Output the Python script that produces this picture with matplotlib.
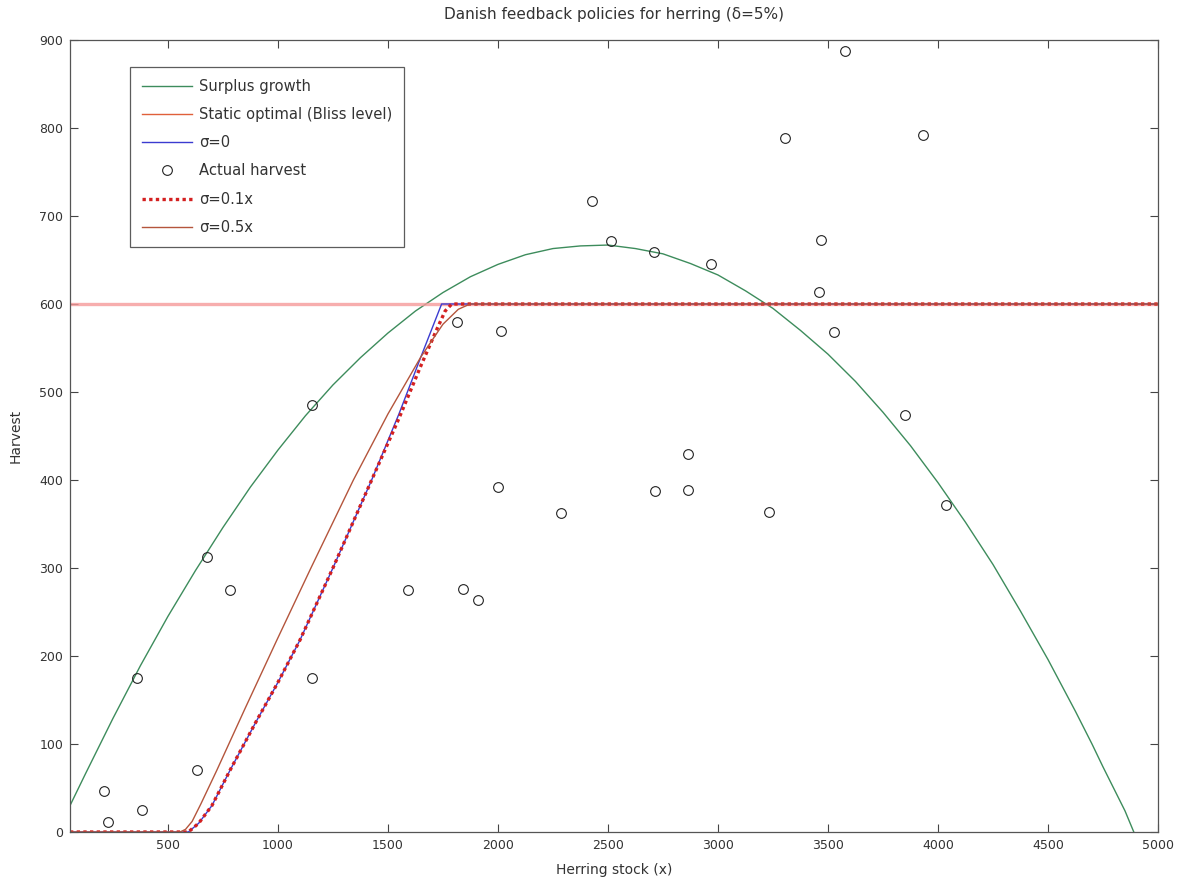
import matplotlib.pyplot as plt

# surplus growth curve
growth_x = [55, 125, 250, 375, 500, 625, 750, 875, 1000, 1125, 1250, 1375, 1500,
            1625, 1750, 1875, 2000, 2125, 2250, 2375, 2500, 2625, 2750, 2875,
            3000, 3125, 3250, 3375, 3500, 3625, 3750, 3875, 4000, 4125, 4250,
            4375, 4500, 4625, 4700, 4750, 4800, 4850, 4890]
growth_y = [30, 66, 129, 189, 245, 297, 346, 392, 434, 473, 508, 539, 567,
            592, 613, 631, 645, 656, 663, 666, 667, 663, 657, 646,
            633, 615, 595, 570, 543, 512, 477, 439, 397, 352, 304,
            251, 196, 137, 100, 74, 49, 24, 0]

# static optimal (bliss level)
bliss_x = [55, 5000]
bliss_y = [600, 600]

# feedback policies
sig0_x = [55, 593, 640, 700, 782, 900, 1000, 1100, 1250, 1426, 1550, 1650, 1744, 5000]
sig0_y = [0, 0, 10, 30, 70, 125, 170, 218, 300, 400, 475, 540, 600, 600]

sig01_x = [55, 593, 640, 700, 782, 900, 1000, 1100, 1250, 1426, 1550, 1650, 1720, 1760, 1790, 5000]
sig01_y = [0, 0, 10, 30, 70, 125, 170, 218, 300, 400, 470, 530, 570, 592, 600, 600]

sig05_x = [55, 555, 580, 610, 650, 722, 850, 995, 1150, 1343, 1500, 1650, 1750, 1820, 1873, 5000]
sig05_y = [0, 0, 3, 12, 32, 70, 140, 218, 300, 400, 475, 540, 577, 594, 600, 600]

# actual harvest observations
stock = [211, 229, 360, 384, 632, 678, 782, 1156, 1156, 1593, 1815, 1841, 1908,
         1999, 2015, 2288, 2429, 2512, 2710, 2714, 2865, 2865, 2970, 3232,
         3305, 3461, 3467, 3528, 3576, 3850, 3932, 4037]
harvest = [47, 11, 175, 25, 71, 313, 275, 175, 485, 275, 580, 276, 264,
           392, 569, 363, 717, 672, 659, 387, 429, 389, 645, 364,
           789, 614, 673, 568, 888, 474, 792, 372]

plt.rcParams['font.family'] = ['DejaVu Sans']

fig = plt.figure(figsize=(11.82, 8.81), dpi=100)
ax = fig.add_axes([70 / 1182, 49 / 881, 1088 / 1182, 792 / 881])

ax.plot(growth_x, growth_y, color="#3d8c5c", lw=1.0, label="Surplus growth")
ax.plot(bliss_x, bliss_y, color="#f59a9a", lw=2.4, alpha=0.8,
        label="Static optimal (Bliss level)")
ax.plot(sig0_x, sig0_y, color="#3b3bd0", lw=1.0, label="σ=0")
ax.plot(stock, harvest, linestyle="none", marker="o", markersize=7,
        markerfacecolor="none", markeredgecolor="#222222", markeredgewidth=0.8,
        label="Actual harvest")
ax.plot(sig01_x, sig01_y, color="#d42020", lw=2.4, linestyle=(0, (1, 1)),
        label="σ=0.1x")
ax.plot(sig05_x, sig05_y, color="#b4553c", lw=1.0, label="σ=0.5x")

ax.set_xlim(55, 5000)
ax.set_ylim(0, 900)
ax.set_xticks(range(500, 5001, 500))
ax.set_yticks(range(0, 901, 100))
ax.tick_params(direction="in", length=6, width=0.8, top=True, right=True,
               labelsize=9, labelcolor="#333333", colors="#444444", pad=5)
for s in ax.spines.values():
    s.set_color("#555555")
    s.set_linewidth(0.9)

ax.set_title("Danish feedback policies for herring (δ=5%)", fontsize=11,
             color="#333333", pad=15)
ax.set_xlabel("Herring stock (x)", fontsize=10, color="#333333", labelpad=8)
ax.set_ylabel("Harvest", fontsize=10, color="#333333", labelpad=12)

leg = ax.legend(loc="upper left", bbox_to_anchor=(0.055, 0.966), borderaxespad=0,
                fancybox=False, edgecolor="#333333", fontsize=10.6,
                handlelength=3.4, labelspacing=0.9, borderpad=0.8,
                handletextpad=0.5)
leg.get_frame().set_linewidth(0.9)
for t in leg.get_texts():
    t.set_color("#333333")
bliss_handle = leg.get_lines()[1]
bliss_handle.set_color("#e0603a")
bliss_handle.set_linewidth(1.0)
bliss_handle.set_alpha(1.0)

fig.savefig("out.png", dpi=100)
